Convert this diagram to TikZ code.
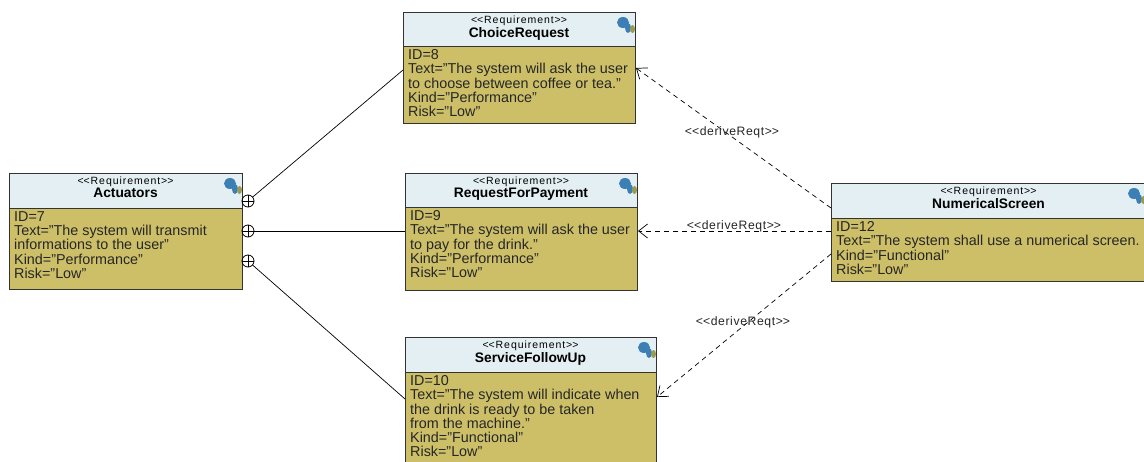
\documentclass[tikz,border=0pt]{standalone}
\usepackage{fontspec}
\setmainfont[Ligatures=NoCommon]{Liberation Sans}
\usetikzlibrary{arrows.meta}
\definecolor{headfill}{HTML}{E3EFF3}
\definecolor{bodyfill}{HTML}{CDBF68}
\definecolor{edge}{HTML}{333333}
\definecolor{txt}{HTML}{262626}
\definecolor{iconblue}{HTML}{3C7FB5}
\definecolor{iconolive}{HTML}{9A9A55}
\newcommand{\gu}{<\kern0pt<}
\newcommand{\gv}{>\kern0pt>}
\tikzset{
  x=1pt,y=-1pt,
  reqhead/.style={draw=edge,line width=1pt,fill=headfill,anchor=north west,inner sep=0pt,outer sep=0pt,align=center,text=black},
  reqbody/.style={draw=edge,line width=1pt,fill=bodyfill,anchor=north west,inner sep=0pt,outer sep=0pt,align=left,text=txt},
  bodyfont/.style={font=\fontsize{14.35}{14.2}\selectfont},
  contain/.style={circle,draw=black,line width=.8pt,minimum size=12pt,inner sep=0pt,outer sep=0pt},
  assoc/.style={draw=black,line width=.7pt},
  derive/.style={draw=black,line width=.7pt,dash pattern=on 5pt off 4pt,-{Straight Barb[length=9pt,width=14pt,line width=.7pt]}},
  linklabel/.style={font=\fontsize{12.2}{13}\selectfont\addfontfeature{LetterSpace=5},text=txt,inner sep=0pt},
}
% #1 name, #2 x, #3 y, #4 width, #5 header h, #6 body h, #7 title, #8 body
\newcommand{\reqbox}[8]{%
  \node[reqbody,minimum width=#4pt,minimum height=#6pt] (#1body) at (#2,#3+#5) {};
  \node[anchor=north west,bodyfont,align=left,inner sep=0pt,text=txt] (#1text) at (#2+5,#3+#5+3.5) {#8};
  \node[reqhead,minimum width=#4pt,minimum height=#5pt] (#1head) at (#2,#3) {};
  \node[anchor=north,align=center,inner sep=0pt] (#1title) at (#2+#4/2,#3+3.5) {{\fontsize{10.5}{11}\selectfont\addfontfeature{LetterSpace=9}\gu Requirement\gv}\\[1pt]{\fontsize{13.8}{15}\selectfont\bfseries #7}};
  \fill[iconblue] (#2+#4-12,#3+10.5) ellipse (6pt and 5.5pt);
  \fill[iconblue] (#2+#4-7,#3+16) ellipse (3pt and 5pt);
  \fill[iconolive] (#2+#4-2.5,#3+17) ellipse (2.5pt and 4pt);
}
\begin{document}
\begin{tikzpicture}
\useasboundingbox (0,0) rectangle (1144,461);
\fill[white] (0,0) rectangle (1144,461);
\clip (0,0) rectangle (1144,461);
\reqbox{choice}{403}{12}{232}{34}{77}{ChoiceRequest}{ID=8\\Text="The system will ask the user\\to choose between coffee or tea."\\Kind="Performance"\\Risk="Low"}
\reqbox{payment}{405}{173}{232}{34}{83}{RequestForPayment}{ID=9\\Text="The system will ask the user\\to pay for the drink."\\Kind="Performance"\\Risk="Low"}
\reqbox{service}{405}{337}{251}{35}{95}{ServiceFollowUp}{ID=10\\Text="The system will indicate when\\the drink is ready to be taken\\from the machine."\\Kind="Functional"\\Risk="Low"}
\reqbox{actuators}{9}{173}{233}{35}{81}{Actuators}{ID=7\\Text="The system will transmit\\informations to the user"\\Kind="Performance"\\Risk="Low"}
\reqbox{screen}{831}{183}{315}{35}{63}{NumericalScreen}{ID=12\\Text="The system shall use a numerical screen.\\Kind="Functional"\\Risk="Low"}
\node[contain] (p1) at (248,201) {};
\node[contain] (p2) at (248,231) {};
\node[contain] (p3) at (248,261) {};
\foreach \p in {p1,p2,p3}{\draw[assoc] (\p.north)--(\p.south) (\p.west)--(\p.east);}
\coordinate (c1) at (403,70);
\coordinate (c2) at (405,231);
\coordinate (c3) at (405,399);
\draw[assoc] (p1) -- (c1);
\draw[assoc] (p2) -- (c2);
\draw[assoc] (p3) -- (c3);
\coordinate (s1) at (831,208);
\coordinate (s2) at (831,231);
\coordinate (s3) at (831,254);
\coordinate (t1) at (636,68);
\coordinate (t2) at (638,231);
\coordinate (t3) at (657,397);
\draw[derive] (s1) -- (t1);
\draw[derive] (s2) -- (t2);
\draw[derive] (s3) -- (t3);
\node[linklabel] (l1) at (732,132) {\gu deriveReqt\gv};
\node[linklabel] (l2) at (734,226) {\gu deriveReqt\gv};
\node[linklabel] (l3) at (743,322) {\gu deriveReqt\gv};
\end{tikzpicture}
\end{document}
